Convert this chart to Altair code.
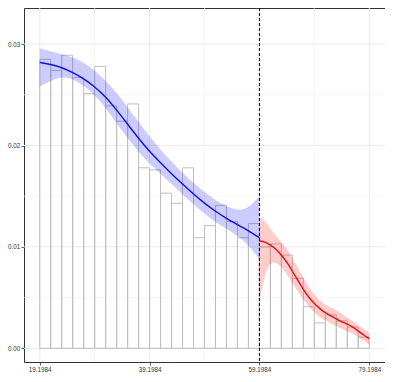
import altair as alt
import pandas as pd

# ---- data ----
bin_start = [19.1984, 21.1984, 23.1984, 25.1984, 27.1984, 29.1984, 31.1984, 33.1984, 35.1984, 37.1984,
             39.1984, 41.1984, 43.1984, 45.1984, 47.1984, 49.1984, 51.1984, 53.1984, 55.1984, 57.1984,
             59.1984, 61.1984, 63.1984, 65.1984, 67.1984, 69.1984, 71.1984, 73.1984, 75.1984, 77.1984]
bin_end = [21.1984, 23.1984, 25.1984, 27.1984, 29.1984, 31.1984, 33.1984, 35.1984, 37.1984, 39.1984,
           41.1984, 43.1984, 45.1984, 47.1984, 49.1984, 51.1984, 53.1984, 55.1984, 57.1984, 59.1984,
           61.1984, 63.1984, 65.1984, 67.1984, 69.1984, 71.1984, 73.1984, 75.1984, 77.1984, 79.1984]
density = [0.0285, 0.0274, 0.0289, 0.0267, 0.0251, 0.0278, 0.0239, 0.0224, 0.0241, 0.0178,
           0.0176, 0.0153, 0.0143, 0.0178, 0.0109, 0.0121, 0.0141, 0.0125, 0.0109, 0.0123,
           0.0100, 0.0103, 0.0092, 0.0069, 0.0041, 0.0025, 0.0033, 0.0027, 0.0021, 0.0011]

blue_x = [19.1984, 21.2, 23.2, 25.2, 27.2, 29.2, 31.2, 33.2, 35.2, 37.2, 39.2, 41.2, 43.2, 45.2,
          47.2, 49.2, 51.2, 53.2, 55.2, 57.2, 59.1984]
blue_fit = [0.0282, 0.0280, 0.0277, 0.0272, 0.0266, 0.0258, 0.0248, 0.0235, 0.0221, 0.0207, 0.0194,
            0.0183, 0.0172, 0.0162, 0.0152, 0.0143, 0.0135, 0.0128, 0.0122, 0.0116, 0.0109]
blue_lo = [0.0258, 0.0264, 0.0268, 0.0266, 0.0259, 0.0250, 0.0237, 0.0222, 0.0207, 0.0194, 0.0182,
           0.0172, 0.0162, 0.0152, 0.0142, 0.0133, 0.0124, 0.0118, 0.0111, 0.0102, 0.0088]
blue_hi = [0.0296, 0.0293, 0.0290, 0.0287, 0.0282, 0.0274, 0.0264, 0.0252, 0.0238, 0.0223, 0.0209,
           0.0196, 0.0184, 0.0173, 0.0163, 0.0154, 0.0146, 0.0140, 0.0136, 0.0138, 0.0150]

red_x = [59.1984, 60.2, 61.2, 62.2, 63.2, 64.2, 65.2, 66.2, 67.2, 68.2, 69.2, 70.2, 71.2, 72.2,
         73.2, 74.2, 75.2, 76.2, 77.2, 78.2, 79.1984]
red_fit = [0.0106, 0.0105, 0.0102, 0.0098, 0.0092, 0.0085, 0.0076, 0.0067, 0.0058, 0.0050, 0.0044,
           0.0039, 0.0035, 0.0032, 0.0029, 0.0026, 0.0024, 0.0021, 0.0017, 0.0013, 0.00095]
red_lo = [0.0047, 0.0074, 0.0085, 0.0085, 0.0080, 0.0073, 0.0064, 0.0056, 0.0048, 0.0041, 0.0035,
          0.0031, 0.0027, 0.0025, 0.0022, 0.0019, 0.0017, 0.0014, 0.0011, 0.0007, 0.0004]
red_hi = [0.0129, 0.0126, 0.0118, 0.0111, 0.0105, 0.0098, 0.0089, 0.0079, 0.0070, 0.0060, 0.0053,
          0.0047, 0.0043, 0.0040, 0.0038, 0.0034, 0.0030, 0.0027, 0.0023, 0.0019, 0.0015]

cutoff = [59.1984]
x_ticks = [19.1984, 39.1984, 59.1984, 79.1984]
y_ticks = [0.00, 0.01, 0.02, 0.03]
x_grid_minor = [29.1984, 49.1984, 69.1984]
y_grid_minor = [0.005, 0.015, 0.025]

# ---- tables ----
bars = pd.DataFrame({"x": bin_start, "x2": bin_end, "y": density})
blue = pd.DataFrame({"x": blue_x, "fit": blue_fit, "lo": blue_lo, "hi": blue_hi})
red = pd.DataFrame({"x": red_x, "fit": red_fit, "lo": red_lo, "hi": red_hi})

xs = alt.Scale(domain=[16.333, 82.064], nice=False, zero=False)
ys = alt.Scale(domain=[-0.00135, 0.03356], nice=False, zero=False)
xax = alt.Axis(values=x_ticks, format=".4f", title=None)
yax = alt.Axis(values=y_ticks, format=".2f", title=None)

def X(field):
    return alt.X(field, type="quantitative", scale=xs, axis=xax)

def Y(field):
    return alt.Y(field, type="quantitative", scale=ys, axis=yax)

grid_major_x = alt.Chart(pd.DataFrame({"x": x_ticks})).mark_rule(color="#EBEBEB", strokeWidth=1).encode(x=X("x"))
grid_minor_x = alt.Chart(pd.DataFrame({"x": x_grid_minor})).mark_rule(color="#F2F2F2", strokeWidth=0.7).encode(x=X("x"))
grid_major_y = alt.Chart(pd.DataFrame({"y": y_ticks})).mark_rule(color="#EBEBEB", strokeWidth=1).encode(y=Y("y"))
grid_minor_y = alt.Chart(pd.DataFrame({"y": y_grid_minor})).mark_rule(color="#F2F2F2", strokeWidth=0.7).encode(y=Y("y"))

hist = alt.Chart(bars).mark_rect(fill="white", fillOpacity=0, stroke="#BEBEBE", strokeWidth=1).encode(
    x=X("x"), x2="x2", y=Y("y"), y2=alt.datum(0)
)

blue_band = alt.Chart(blue).mark_area(color="#0000FF", opacity=0.2, interpolate="basis").encode(
    x=X("x"), y=Y("lo"), y2="hi"
)
blue_line = alt.Chart(blue).mark_line(color="#1010E0", strokeWidth=1.4, interpolate="basis").encode(
    x=X("x"), y=Y("fit")
)
red_band = alt.Chart(red).mark_area(color="#FF0000", opacity=0.2, interpolate="basis").encode(
    x=X("x"), y=Y("lo"), y2="hi"
)
red_line = alt.Chart(red).mark_line(color="#E01010", strokeWidth=1.4, interpolate="basis").encode(
    x=X("x"), y=Y("fit")
)
vline = alt.Chart(pd.DataFrame({"x": cutoff})).mark_rule(color="black", strokeWidth=1, strokeDash=[3, 2]).encode(
    x=X("x")
)

chart = alt.layer(
    grid_minor_x, grid_minor_y, grid_major_x, grid_major_y,
    hist, blue_band, red_band, blue_line, red_line, vline
).properties(
    width=361, height=354,
    autosize=alt.AutoSizeParams(type="none"),
    padding={"left": 16, "top": 0, "right": 0, "bottom": 10},
).configure_view(
    stroke="#333333", strokeWidth=1
).configure_axis(
    domain=False, grid=False, tickColor="#333333", tickSize=3, tickWidth=0.8,
    labelFont="Liberation Sans", labelFontSize=6.3, labelColor="#333333", labelPadding=1.2
)

chart.save("out.html", embed_options={"renderer": "svg", "actions": False})
